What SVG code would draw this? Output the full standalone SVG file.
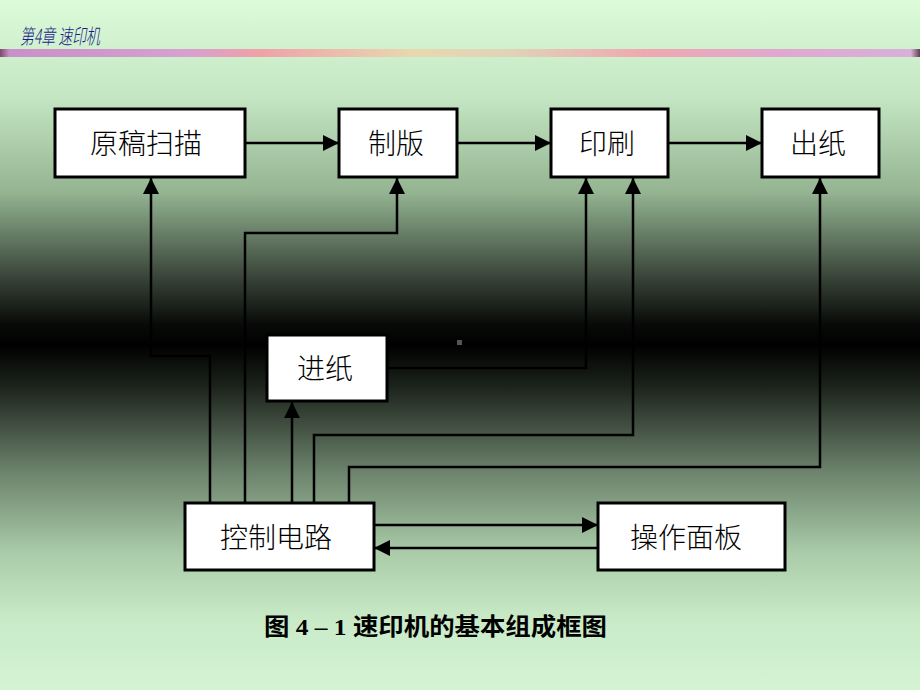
<svg xmlns="http://www.w3.org/2000/svg" width="920" height="690" viewBox="0 0 920 690">
<defs>
<linearGradient id="bg" x1="0" y1="0" x2="0" y2="1">
<stop offset="0" stop-color="#dbfbd9"/>
<stop offset="0.14" stop-color="#c5e6c3"/>
<stop offset="0.28" stop-color="#93b391"/>
<stop offset="0.40" stop-color="#3a463a"/>
<stop offset="0.47" stop-color="#080a08"/>
<stop offset="0.50" stop-color="#000000"/>
<stop offset="0.56" stop-color="#1c231c"/>
<stop offset="0.68" stop-color="#6a806a"/>
<stop offset="0.80" stop-color="#a9cba8"/>
<stop offset="0.90" stop-color="#c9ebc8"/>
<stop offset="1" stop-color="#d4f3d3"/>
</linearGradient>
<linearGradient id="bar" x1="0" y1="0" x2="1" y2="0">
<stop offset="0" stop-color="#7a4a6a"/>
<stop offset="0.01" stop-color="#c890c8"/>
<stop offset="0.2" stop-color="#d6a0d0"/>
<stop offset="0.28" stop-color="#f0a0a8"/>
<stop offset="0.45" stop-color="#e8d8b0"/>
<stop offset="0.55" stop-color="#e0d4b8"/>
<stop offset="0.7" stop-color="#f0a8b0"/>
<stop offset="0.85" stop-color="#e0a8d0"/>
<stop offset="0.99" stop-color="#d8b0d8"/>
<stop offset="1" stop-color="#604050"/>
</linearGradient>
<marker id="ah" viewBox="0 0 16 16" refX="16" refY="8" markerWidth="16" markerHeight="16" markerUnits="userSpaceOnUse" orient="auto">
<path d="M0,0 L16,8 L0,16 Z" fill="#000"/>
</marker>
<style>
.box{fill:#fff;stroke:#000;stroke-width:3}
.lbl{font-family:"Noto Sans CJK SC",sans-serif;font-weight:300;font-size:28px;fill:#000;text-anchor:middle}
.c{fill:none;stroke:#000;stroke-width:2.5}
.a{marker-end:url(#ah)}
</style>
</defs>
<rect x="0" y="0" width="920" height="690" fill="url(#bg)"/>
<rect x="0" y="49" width="920" height="8" fill="url(#bar)"/>
<text x="20" y="44" font-family="Noto Sans CJK SC, sans-serif" font-size="21" font-weight="300" font-style="italic" fill="#1a1a8a" textLength="80" lengthAdjust="spacingAndGlyphs">第4章 速印机</text>
<rect x="457" y="340" width="5" height="5" fill="#555"/>

<g id="connectors">
<line class="c a" x1="245" y1="143" x2="339" y2="143"/>
<line class="c a" x1="457" y1="143" x2="551" y2="143"/>
<line class="c a" x1="668" y1="143" x2="762" y2="143"/>
<polyline class="c a" points="210,503 210,356 151,356 151,178"/>
<polyline class="c a" points="245,503 245,233 397,233 397,178"/>
<line class="c a" x1="292" y1="503" x2="292" y2="402"/>
<polyline class="c a" points="387,368 586,368 586,178"/>
<polyline class="c a" points="314,503 314,435 633,435 633,178"/>
<polyline class="c a" points="349,503 349,467 820,467 820,178"/>
<line class="c a" x1="374" y1="525" x2="598" y2="525"/>
<line class="c a" x1="598" y1="548" x2="374" y2="548"/>
</g>

<g id="n-scan"><rect class="box" x="55" y="109" width="190" height="68"/><text class="lbl" x="146" y="154">原稿扫描</text></g>
<g id="n-plate"><rect class="box" x="339" y="109" width="118" height="68"/><text class="lbl" x="396" y="154">制版</text></g>
<g id="n-print"><rect class="box" x="551" y="109" width="117" height="68"/><text class="lbl" x="607" y="154">印刷</text></g>
<g id="n-out"><rect class="box" x="762" y="109" width="117" height="68"/><text class="lbl" x="818" y="154">出纸</text></g>
<g id="n-feed"><rect class="box" x="267" y="335" width="120" height="66"/><text class="lbl" x="325" y="379">进纸</text></g>
<g id="n-ctrl"><rect class="box" x="185" y="503" width="189" height="67"/><text class="lbl" x="276" y="548">控制电路</text></g>
<g id="n-panel"><rect class="box" x="598" y="503" width="187" height="67"/><text class="lbl" x="686" y="548">操作面板</text></g>

<text x="264" y="635" font-family="Liberation Serif, Noto Sans CJK SC, serif" font-size="24" font-weight="bold" fill="#000" textLength="343" lengthAdjust="spacingAndGlyphs">图 4 – 1 速印机的基本组成框图</text>
</svg>
